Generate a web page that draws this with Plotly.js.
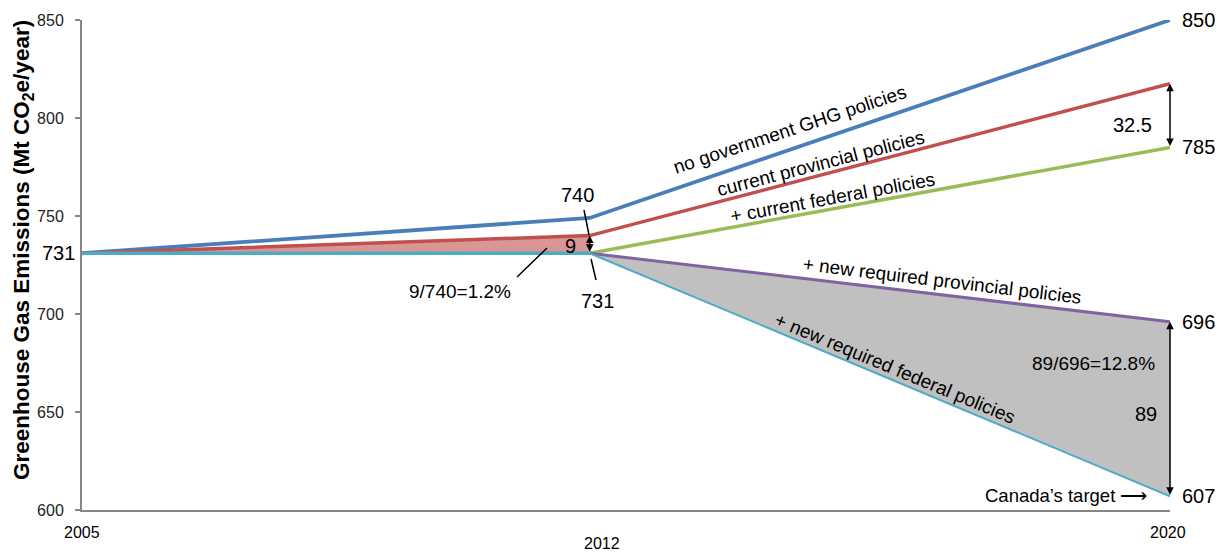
<!DOCTYPE html>
<html><head><meta charset="utf-8">
<script src="https://cdn.plot.ly/plotly-3.0.1.min.js"></script>
<style>body{margin:0;background:#fff}#c{width:1217px;height:552px}</style>
</head><body><div id="c"></div>
<script>
const years = [2005, 2012, 2020];
const noGov = [731, 749, 850];
const provincial = [731, 740, 817.5];
const fedYears = [2012, 2020];
const federalCur = [731, 785];
const newProv = [731, 696];
const newFed = [731, 731, 607];
const yTicks = [600, 650, 700, 750, 800, 850];
const xLabels = ['2005', '2012', '2020'];

const C = {blue:'#4a7ebb', red:'#c0504d', green:'#9bbb59', purple:'#8064a2', teal:'#4bacc6'};
const F = 'Liberation Sans, Arial, sans-serif';

const traces = [
  {x: years.slice(0,2), y: newFed.slice(0,2), mode:'lines', line:{width:0}, hoverinfo:'skip'},
  {x: years.slice(0,2), y: provincial.slice(0,2), mode:'lines', line:{width:0}, fill:'tonexty', fillcolor:'rgba(192,80,77,0.6)', hoverinfo:'skip'},
  {x: years.slice(1), y: newFed.slice(1), mode:'lines', line:{width:0}, hoverinfo:'skip'},
  {x: fedYears, y: newProv, mode:'lines', line:{width:0}, fill:'tonexty', fillcolor:'#c0c0c0', hoverinfo:'skip'},
  {x: years, y: noGov, mode:'lines', line:{color:C.blue, width:3.8}},
  {x: years, y: provincial, mode:'lines', line:{color:C.red, width:3.5}},
  {x: fedYears, y: federalCur, mode:'lines', line:{color:C.green, width:3.5}},
  {x: fedYears, y: newProv, mode:'lines', line:{color:C.purple, width:3}},
  {x: years.slice(0,2), y: newFed.slice(0,2), mode:'lines', line:{color:C.teal, width:3.5}},
  {x: years.slice(1), y: newFed.slice(1), mode:'lines', line:{color:C.teal, width:2}}
];

function txt(x, y, text, size, opts) {
  return Object.assign({x, y, xref:'x', yref:'y', text, showarrow:false, font:{family:F, size, color:'#000'}}, opts||{});
}
function dblArrow(x, y0, y1) {
  return {x, y:y1, ax:x, ay:y0, xref:'x', yref:'y', axref:'x', ayref:'y', text:'', showarrow:true,
          arrowhead:2, startarrowhead:2, arrowside:'end+start', arrowsize:1, startarrowsize:1, arrowwidth:1.5, arrowcolor:'#000'};
}
const mid = (a, b) => (a + b) / 2;

const annotations = [
  // x labels
  {x:years[0], xref:'x', y:-0.045, yref:'paper', xanchor:'center', yanchor:'middle', text:xLabels[0], showarrow:false, font:{family:F, size:16, color:'#000'}},
  {x:years[1], xref:'x', y:-0.069, yref:'paper', xanchor:'center', yanchor:'middle', xshift:12, text:xLabels[1], showarrow:false, font:{family:F, size:16, color:'#000'}},
  {x:years[2], xref:'x', y:-0.045, yref:'paper', xanchor:'center', yanchor:'middle', xshift:-2, text:xLabels[2], showarrow:false, font:{family:F, size:16, color:'#000'}},
  // y title
  {x:0, xref:'paper', y:0.5306, yref:'paper', xanchor:'center', yanchor:'middle', xshift:-59, textangle:-90,
   text:'<b>Greenhouse Gas Emissions (Mt CO<sub>2</sub>e/year)</b>', showarrow:false, font:{family:F, size:22.5, color:'#000'}},
  // right-edge values
  txt(years[2], noGov[2], String(noGov[2]), 20, {xanchor:'left', xshift:10}),
  txt(years[2], federalCur[1], String(federalCur[1]), 20, {xanchor:'left', xshift:10}),
  txt(years[2], newProv[1], String(newProv[1]), 20, {xanchor:'left', xshift:10}),
  txt(years[2], newFed[2], String(newFed[2]), 20, {xanchor:'left', xshift:10}),
  // left 731
  {x:0, xref:'paper', y:newFed[0], yref:'y', xanchor:'right', xshift:-5, text:String(newFed[0]), showarrow:false, font:{family:F, size:20, color:'#000'}},
  // arrows
  dblArrow(years[2], federalCur[1], provincial[2]),
  dblArrow(years[2], newFed[2], newProv[1]),
  dblArrow(years[1], newFed[1], provincial[1]),
  txt(years[2], mid(federalCur[1], provincial[2]), '32.5', 20, {xshift:-38, yshift:-9}),
  txt(years[1], mid(newFed[1], provincial[1]), '9', 20, {xshift:-19, yshift:-2}),
  txt(years[1], provincial[1], '740', 20, {xshift:-12, yshift:41}),
  txt(years[1], newFed[1], '731', 20, {xshift:8, yshift:-48}),
  txt(years[1], newFed[1], '9/740=1.2%', 19, {xshift:-130, yshift:-38}),
  txt(years[2], newFed[2], '89/696=12.8%', 19, {xshift:-77, yshift:133}),
  txt(years[2], newFed[2], '89', 20, {xshift:-24, yshift:82}),
  txt(years[2], newFed[2], 'Canada\u2019s target \u27F6', 18.5, {xshift:-104, yshift:1}),
  // line labels
  txt(2014.76, 793.9, 'no government GHG policies', 19, {textangle:-18.3}),
  txt(2015.175, 777.0, 'current provincial policies', 19, {textangle:-14.5}),
  txt(2015.355, 759.2, '+ current federal policies', 19, {textangle:-10.4}),
  txt(2016.857, 717.3, '+ new required provincial policies', 19, {textangle:6.9}),
  txt(2016.21, 672.4, '+ new required federal policies', 19, {textangle:22.6})
];

const shapes = [
  {type:'line', xref:'x', yref:'y', x0:2011.921, y0:753.06, x1:2011.990, y1:740.3, line:{color:'#000', width:1.5}},
  {type:'line', xref:'x', yref:'y', x0:2012.018, y0:728.06, x1:2012.087, y1:717.35, line:{color:'#000', width:1.5}},
  {type:'line', xref:'x', yref:'y', x0:2010.998, y0:718.88, x1:2011.411, y1:733.67, line:{color:'#000', width:1.5}}
];

const layout = {
  width:1217, height:552,
  margin:{l:82, r:47, t:20, b:42},
  paper_bgcolor:'#fff', plot_bgcolor:'#fff',
  showlegend:false,
  font:{family:F, color:'#000'},
  xaxis:{range:[2005,2020], showgrid:false, zeroline:false, showline:true, linecolor:'#868686', linewidth:2, showticklabels:false, ticks:''},
  yaxis:{range:[600,850], tickvals:yTicks, showgrid:false, zeroline:false, showline:true, linecolor:'#868686', linewidth:2,
         ticks:'outside', ticklen:5, tickwidth:1.5, tickcolor:'#868686', ticklabelstandoff:8,
         tickfont:{family:F, size:16, color:'#222'}},
  annotations, shapes
};
Plotly.newPlot('c', traces, layout, {staticPlot:true});
</script></body></html>
